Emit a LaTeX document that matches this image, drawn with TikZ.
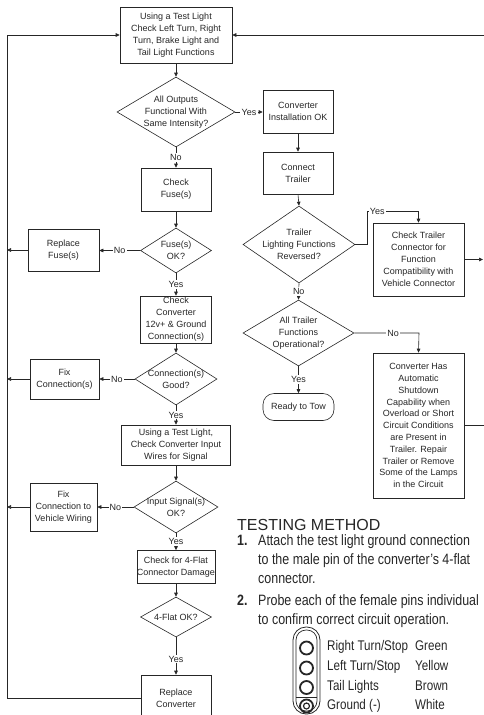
\documentclass[tikz,border=0pt]{standalone}
\usepackage{fontspec}
\setmainfont{Liberation Sans}
\newfontfamily\condfont[FakeStretch=0.83]{Liberation Sans}
\usetikzlibrary{shapes.geometric,arrows.meta}
\definecolor{ink}{gray}{0.15}
\begin{document}
\begin{tikzpicture}[x=1pt,y=-1pt,
  line/.style={draw=ink, line width=0.6pt},
  arr/.style={line, -{Triangle[length=4pt,width=3.6pt]}},
  box/.style={draw=ink, line width=0.6pt, rectangle, inner sep=0pt, align=center,
    font=\fontsize{9}{12}\selectfont, text=ink},
  dia/.style={draw=ink, line width=0.6pt, diamond, inner sep=0pt},
  dtxt/.style={inner sep=0pt, align=center, font=\fontsize{9}{12}\selectfont, text=ink},
  lbl/.style={fill=white, inner sep=1.2pt, font=\fontsize{9}{10}\selectfont, text=ink},
  tm/.style={inner sep=0pt, anchor=base west, text=ink},
  body/.style={tm, align=left, font=\condfont\fontsize{15}{19}\selectfont},
  pinlbl/.style={tm, font=\condfont\fontsize{14}{16}\selectfont},
]
\useasboundingbox (0,0) rectangle (484,715);

% left column
\node[box, minimum width=112pt, minimum height=56pt] (b1) at (176,35)
  {Using a Test Light\\Check Left Turn, Right\\Turn, Brake Light and\\Tail Light Functions};
\node[dia, minimum width=118pt, minimum height=70pt] (d1) at (176,112) {};
\node[dtxt] (d1t) at (d1) {All Outputs\\Functional With\\Same Intensity?};
\node[box, minimum width=70pt, minimum height=43pt] (b2) at (176,189.5) {Check\\Fuse(s)};
\node[dia, minimum width=71pt, minimum height=45pt] (d2) at (176,250.5) {};
\node[dtxt] (d2t) at (d2) {Fuse(s)\\OK?};
\node[box, minimum width=71pt, minimum height=42pt] (rf) at (63.5,250) {Replace\\Fuse(s)};
\node[box, minimum width=71pt, minimum height=47pt] (b3) at (176,319.5)
  {Check\\Converter\\12v+ \& Ground\\Connection(s)};
\node[dia, minimum width=82pt, minimum height=52pt] (d5) at (176,379) {};
\node[dtxt] (d5t) at (d5) {Connection(s)\\Good?};
\node[box, minimum width=69pt, minimum height=40pt] (fc) at (64.5,379) {Fix\\Connection(s)};
\node[box, minimum width=109pt, minimum height=40pt] (b4) at (176,445)
  {Using a Test Light,\\Check Converter Input\\Wires for Signal};
\node[dia, minimum width=84pt, minimum height=52pt] (d6) at (176,507) {};
\node[dtxt] (d6t) at (d6) {Input Signal(s)\\OK?};
\node[box, minimum width=67pt, minimum height=48pt] (fv) at (63.5,507)
  {Fix\\Connection to\\Vehicle Wiring};
\node[box, minimum width=71pt, minimum height=33pt] (b5) at (176,567)
  {Check for 4-Flat\\Connector Damage};
\node[dia, minimum width=71pt, minimum height=40pt] (d7) at (176,617) {};
\node[dtxt] (d7t) at (d7) {4-Flat OK?};
\node[box, minimum width=70pt, minimum height=46pt] (b6) at (176,698) {Replace\\Converter};

% right column
\node[box, minimum width=70pt, minimum height=43pt] (bok) at (298,111.5) {Converter\\Installation OK};
\node[box, minimum width=70pt, minimum height=42pt] (bct) at (298,173) {Connect\\Trailer};
\node[dia, minimum width=112pt, minimum height=77pt] (d3) at (299,244.5) {};
\node[dtxt] (d3t) at (d3) {Trailer\\Lighting Functions\\Reversed?};
\node[dia, minimum width=111pt, minimum height=66pt] (d4) at (298.5,333) {};
\node[dtxt] (d4t) at (d4) {All Trailer\\Functions\\Operational?};
\node[box, rounded corners=11pt, minimum width=71pt, minimum height=27pt] (rt) at (298.5,407) {Ready to Tow};
\node[box, minimum width=91pt, minimum height=73pt] (ctb) at (418.5,259.5)
  {Check Trailer\\Connector for\\Function\\Compatibility with\\Vehicle Connector};
\node[box, minimum width=91pt, minimum height=145pt, font=\fontsize{9}{11.8}\selectfont] (chb) at (418.5,425.5)
  {Converter Has\\Automatic\\Shutdown\\Capability when\\Overload or Short\\Circuit Conditions\\are Present in\\Trailer. Repair\\Trailer or Remove\\Some of the Lamps\\in the Circuit};

% helper coordinates
\coordinate (LT) at (7,35);
\coordinate (LB) at (7,698);
\coordinate (RT) at (484,35);
\coordinate (RX) at (483,0);
\coordinate (RY) at (484,0);
\coordinate (LX) at (7,0);
\coordinate (yc) at (367,211);
\coordinate (nc) at (419,333);

% connectors, left column
\draw[arr] (b6.west) -- (LB) -- (LT) -- (b1.west);
\draw[arr] (RT) -- (b1.east);
\draw[arr] (b1.south) -- (d1.north);
\draw[arr] (d1.south) -- node[lbl]{No} (b2.north);
\draw[arr] (b2.south) -- (d2.north);
\draw[arr] (d2.west) -- node[lbl]{No} (d2.west -| rf.east);
\draw[arr] (rf.west) -- (rf.west -| LX);
\draw[arr] (d2.south) -- node[lbl]{Yes} (b3.north);
\draw[arr] (b3.south) -- (d5.north);
\draw[arr] (d5.west) -- node[lbl]{No} (d5.west -| fc.east);
\draw[arr] (fc.west) -- (fc.west -| LX);
\draw[arr] (d5.south) -- node[lbl]{Yes} (b4.north);
\draw[arr] (b4.south) -- (d6.north);
\draw[arr] (d6.west) -- node[lbl]{No} (d6.west -| fv.east);
\draw[arr] (fv.west) -- (fv.west -| LX);
\draw[arr] (d6.south) -- node[lbl]{Yes} (b5.north);
\draw[arr] (b5.south) -- (d7.north);
\draw[arr] (d7.south) -- node[lbl, pos=0.58]{Yes} (b6.north);

% connectors, right column
\draw[arr] (d1.east) -- node[lbl]{Yes} (d1.east -| bok.west);
\draw[arr] (bok.south) -- (bct.north);
\draw[arr] (bct.south) -- (d3.north);
\draw[arr] (d3.south) -- node[lbl]{No} (d4.north);
\draw[arr] (d4.south) -- node[lbl]{Yes} (rt.north);
\draw[arr] (d3.east) -- (d3.east -| yc) -- (yc) -- node[lbl, pos=0.2]{Yes} (yc -| ctb) -- (ctb.north);
\draw[arr] (d4.east) -- node[lbl, pos=0.6]{No} (nc) -- (chb.north);
\draw[arr] (ctb.east) -- (ctb.east -| RX);
\draw[line] (chb.east) -- (chb.east -| RY);

% testing method
\node[tm, font=\fontsize{16}{16}\selectfont] (tmh) at (237,530) {TESTING METHOD};
\node[tm, font=\condfont\bfseries\fontsize{15}{19}\selectfont] (n1) at (237,545) {1.};
\node[body] (t1) at (258,583) {Attach the test light ground connection\\to the male pin of the converter’s 4-flat\\connector.};
\node[tm, font=\condfont\bfseries\fontsize{15}{19}\selectfont] (n2) at (237,605) {2.};
\node[body] (t2) at (258,624) {Probe each of the female pins individual\\to confirm correct circuit operation.};

% 4-flat connector
\draw[ink, line width=0.8pt, rounded corners=13pt] (293,627) rectangle (320,714);
\draw[ink, line width=0.7pt, rounded corners=10pt] (296,630) rectangle (317,711);
\draw[ink, line width=0.7pt] (296,697) -- (317,697);
\foreach \yy in {648,668,687.5,706} {
  \draw[ink, line width=1.8pt] (306.5,\yy) circle (6.5pt);
}
\draw[ink, line width=1.2pt] (306.5,706) circle (3pt);

\node[pinlbl] (p1) at (327,650) {Right Turn/Stop};
\node[pinlbl] (p2) at (327,670) {Left Turn/Stop};
\node[pinlbl] (p3) at (327,690) {Tail Lights};
\node[pinlbl] (p4) at (327,709) {Ground (-)};
\node[pinlbl] (c1) at (415,650) {Green};
\node[pinlbl] (c2) at (415,670) {Yellow};
\node[pinlbl] (c3) at (415,690) {Brown};
\node[pinlbl] (c4) at (415,709) {White};
\end{tikzpicture}
\end{document}
